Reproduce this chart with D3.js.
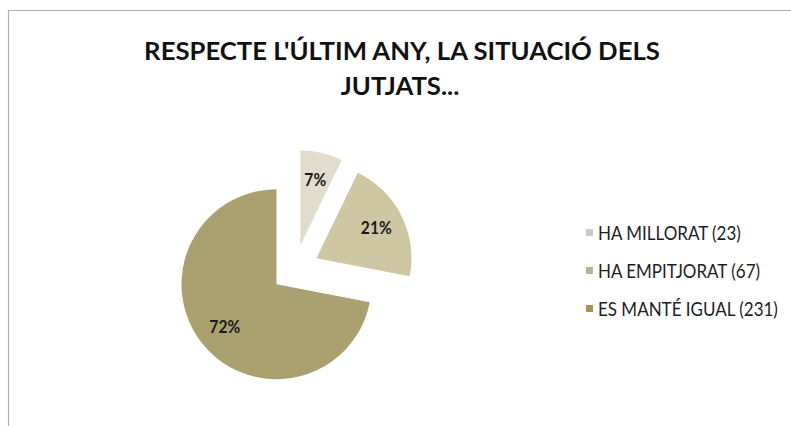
<!DOCTYPE html>
<html>
<head>
<meta charset="utf-8">
<script src="https://cdn.jsdelivr.net/npm/d3@7"></script>
<style>
  html, body { margin: 0; padding: 0; background: #ffffff; }
  svg { display: block; }
</style>
</head>
<body>
<svg id="chart" width="791" height="426"></svg>
<script>
// ---- data ----
const titleLines = ["RESPECTE L'ÚLTIM ANY, LA SITUACIÓ DELS", "JUTJATS..."];
const categories = ["HA MILLORAT", "HA EMPITJORAT", "ES MANTÉ IGUAL"];
const values = [23, 67, 231];
const sliceColors = ["#e1dccb", "#cfc6a4", "#aba170"];
const legendColors = ["#cfc8be", "#bcb293", "#a09655"];

// ---- layout ----
const W = 791, H = 426;
const svg = d3.select("#chart");
const fontFamily = "Lato, 'Open Sans', 'DejaVu Sans', sans-serif";

// border (top and left visible)
svg.append("line").attr("x1", 8).attr("x2", W).attr("y1", 10.5).attr("y2", 10.5)
  .attr("stroke", "#b9aaaa").attr("stroke-width", 1.2);
svg.append("line").attr("x1", 8.5).attr("x2", 8.5).attr("y1", 10).attr("y2", H)
  .attr("stroke", "#b9aaaa").attr("stroke-width", 1.2);

// text compressed horizontally to mimic a condensed face
function condensedText(parent, x, y, str, size, weight, anchor, targetWidth, fill) {
  const g = parent.append("g").attr("transform", `translate(${x},${y})`);
  const t = g.append("text").attr("x", 0).attr("y", 0)
    .attr("text-anchor", anchor).attr("font-family", fontFamily)
    .attr("font-weight", weight).attr("font-size", size).attr("fill", fill)
    .text(str);
  return { g, t, w: t.node().getComputedTextLength() };
}

// ---- title ----
const tt1 = condensedText(svg, 402, 60, titleLines[0], 24, 700, "middle", 516, "#111");
const sx = 516 / tt1.w;
tt1.g.attr("transform", `translate(402,60) scale(${sx},1)`);
const tt2 = condensedText(svg, 400, 95, titleLines[1], 24, 700, "middle", 0, "#111");
tt2.g.attr("transform", `translate(400,95) scale(${sx},1)`);

// ---- pie ----
const cx = 295, cy = 269, R = 95, explode = 24, labelR = 67;
const total = d3.sum(values);
const pie = d3.pie().sort(null).value(d => d)(values);
const arc = d3.arc().innerRadius(0).outerRadius(R);
const labelArc = d3.arc().innerRadius(labelR).outerRadius(labelR);

const g = svg.append("g").attr("transform", `translate(${cx},${cy})`);
const slices = g.selectAll("g.slice").data(pie).enter().append("g")
  .attr("class", "slice")
  .attr("transform", d => {
    const a = (d.startAngle + d.endAngle) / 2;
    return `translate(${explode * Math.sin(a)},${-explode * Math.cos(a)})`;
  });
slices.append("path").attr("d", arc).attr("fill", (d, i) => sliceColors[i]);
slices.append("text")
  .attr("transform", d => {
    const c = labelArc.centroid(d);
    return `translate(${c[0]},${c[1]}) scale(0.92,1)`;
  })
  .attr("text-anchor", "middle").attr("dy", "0.36em")
  .attr("font-family", fontFamily).attr("font-weight", 700)
  .attr("font-size", 17).attr("fill", "#1a1a1a")
  .text(d => Math.round(d.data / total * 100) + "%");

// ---- legend ----
const legendY = d3.scalePoint().domain(categories).range([233, 309]);
const lg = svg.append("g");
const rows = lg.selectAll("g").data(categories).enter().append("g")
  .attr("transform", d => `translate(0,${legendY(d)})`);
rows.append("rect").attr("x", 586).attr("y", -4).attr("width", 7).attr("height", 7)
  .attr("fill", (d, i) => legendColors[i]);
const ltexts = rows.append("text")
  .attr("font-family", fontFamily).attr("font-size", 19).attr("fill", "#1e1e1e")
  .attr("dy", "0.36em")
  .text((d, i) => `${d} (${values[i]})`);
const lw = ltexts.nodes()[2].getComputedTextLength();
const lsx = 180 / lw;
ltexts.attr("transform", `translate(598,0) scale(${lsx},1)`);
</script>
</body>
</html>
